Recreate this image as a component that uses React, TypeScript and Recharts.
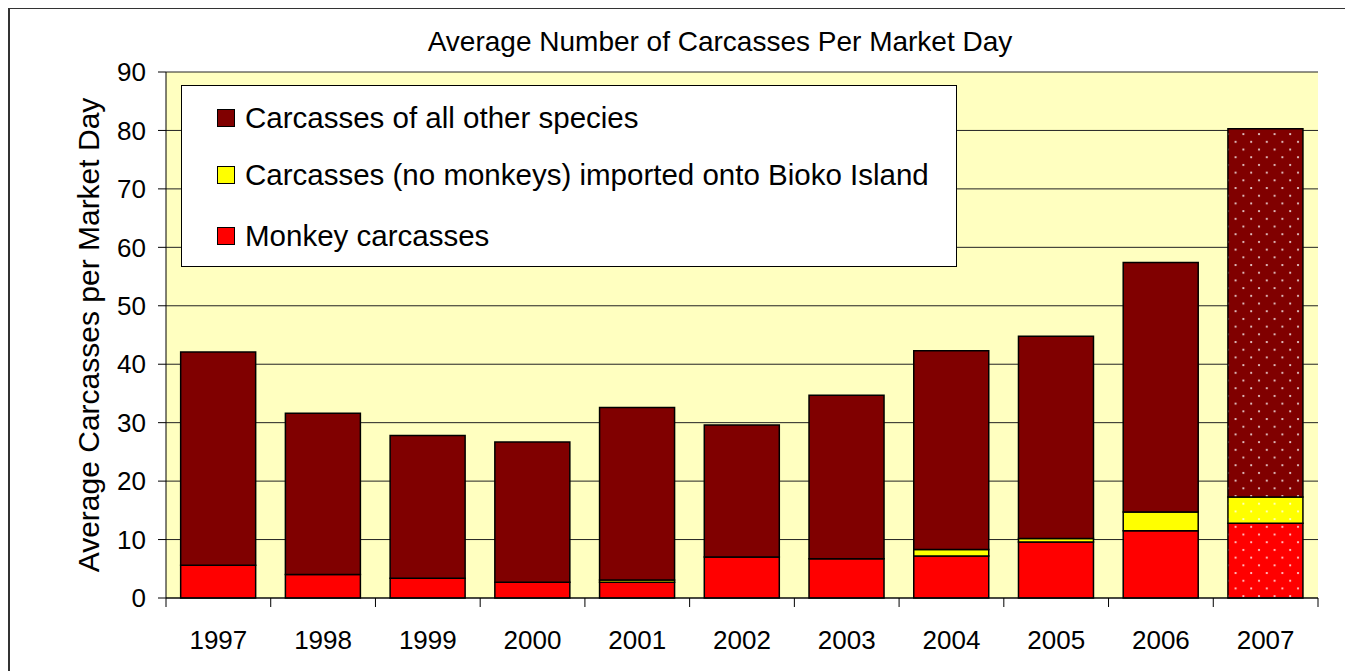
import { BarChart, Bar, XAxis, YAxis, CartesianGrid, Cell, Label } from "recharts"

const years = ["1997", "1998", "1999", "2000", "2001", "2002", "2003", "2004", "2005", "2006", "2007"]
const monkey = [5.6, 4.0, 3.4, 2.7, 2.7, 7.0, 6.7, 7.2, 9.6, 11.5, 12.8]
const imported = [0, 0, 0, 0, 0.4, 0, 0, 1.1, 0.6, 3.2, 4.5]
const other = [36.5, 27.6, 24.4, 24.0, 29.5, 22.6, 28.0, 34.0, 34.6, 42.7, 63.0]
const yTicks = [0, 10, 20, 30, 40, 50, 60, 70, 80, 90]

const legendItems = [
  { label: "Carcasses of all other species", color: "#800000" },
  { label: "Carcasses (no monkeys) imported onto Bioko Island", color: "#FFFF00" },
  { label: "Monkey carcasses", color: "#FF0000" },
]

const data = years.map((year, i) => ({
  year,
  monkey: monkey[i],
  imported: imported[i],
  other: other[i],
}))

const FONT = "'Liberation Sans', Arial, sans-serif"
const PLOT_W = 1152
const BAND = PLOT_W / years.length
const LAST = years.length - 1

function YearTick(props: any) {
  const { x, y, payload } = props
  const idx = props.index ?? payload.index
  const axisY = y - 8
  return (
    <g>
      <line x1={x - BAND / 2} x2={x - BAND / 2} y1={axisY} y2={axisY + 9} stroke="#000" />
      {idx === LAST && <line x1={x + BAND / 2} x2={x + BAND / 2} y1={axisY} y2={axisY + 9} stroke="#000" />}
      <text x={x} y={axisY + 51} textAnchor="middle" fontSize={26} fontFamily={FONT} fill="#000">
        {payload.value}
      </text>
    </g>
  )
}

function dots(id: string, bg: string) {
  return (
    <pattern id={id} patternUnits="userSpaceOnUse" width={15.6} height={15.4}>
      <rect width={15.6} height={15.4} fill={bg} />
      <circle cx={3} cy={3} r={1.1} fill="#fff" fillOpacity={0.85} />
      <circle cx={10.8} cy={10.7} r={1.1} fill="#fff" fillOpacity={0.85} />
    </pattern>
  )
}

export default function App() {
  return (
    <div style={{ position: "relative", width: 1343, height: 680, fontFamily: FONT }}>
      <style>{"html,body{overflow:hidden}"}</style>
      <div
        style={{
          position: "absolute",
          left: 0,
          top: -1,
          width: 1343,
          height: 700,
          border: "2px solid #333",
          boxSizing: "border-box",
        }}
      />
      <div
        style={{
          position: "absolute",
          left: 712,
          top: 19,
          transform: "translateX(-50%)",
          whiteSpace: "nowrap",
          fontSize: 28,
          lineHeight: "30px",
          color: "#000",
        }}
      >
        Average Number of Carcasses Per Market Day
      </div>
      <div style={{ position: "absolute", left: 0, top: 0 }}>
        <BarChart
          width={1342}
          height={664}
          data={data}
          margin={{ top: 64, right: 32, left: 0, bottom: 0 }}
          barCategoryGap="14%"
        >
          <defs>
            {dots("dotOther", "#800000")}
            {dots("dotImported", "#FFFF00")}
            {dots("dotMonkey", "#FF0000")}
          </defs>
          <CartesianGrid vertical={false} stroke="#222" fill="#FFFFC0" />
          <XAxis
            dataKey="year"
            height={74}
            interval={0}
            tickLine={false}
            tickSize={8}
            tickMargin={0}
            axisLine={{ stroke: "#000" }}
            tick={<YearTick />}
          />
          <XAxis xAxisId="top" dataKey="year" orientation="top" height={0} tick={false} tickLine={false} axisLine={{ stroke: "#808080", strokeWidth: 2 }} />
          <YAxis
            width={158}
            domain={[0, 90]}
            ticks={yTicks}
            interval={0}
            tickSize={8}
            tickMargin={12}
            tickLine={{ stroke: "#000" }}
            axisLine={{ stroke: "#000" }}
            tick={{ fontSize: 26, fill: "#000", fontFamily: FONT }}
          >
            <Label
              content={(p: any) => {
                const vb = p.viewBox
                const cx = 80
                const cy = vb.y + vb.height / 2
                return (
                  <text
                    x={cx}
                    y={cy}
                    transform={`rotate(-90 ${cx} ${cy})`}
                    textAnchor="middle"
                    dominantBaseline="central"
                    fontSize={30}
                    fontFamily={FONT}
                    fill="#000"
                  >
                    Average Carcasses per Market Day
                  </text>
                )
              }}
            />
          </YAxis>
          <YAxis yAxisId="right" orientation="right" width={0} tick={false} tickLine={false} axisLine={{ stroke: "#808080", strokeWidth: 2 }} />
          <Bar dataKey="monkey" stackId="a" stroke="#000" strokeWidth={1.5} isAnimationActive={false}>
            {data.map((d, i) => (
              <Cell key={d.year} fill={i === LAST ? "url(#dotMonkey)" : "#FF0000"} />
            ))}
          </Bar>
          <Bar dataKey="imported" stackId="a" stroke="#000" strokeWidth={1.5} isAnimationActive={false}>
            {data.map((d, i) => (
              <Cell key={d.year} fill={i === LAST ? "url(#dotImported)" : "#FFFF00"} />
            ))}
          </Bar>
          <Bar dataKey="other" stackId="a" stroke="#000" strokeWidth={1.5} isAnimationActive={false}>
            {data.map((d, i) => (
              <Cell key={d.year} fill={i === LAST ? "url(#dotOther)" : "#800000"} />
            ))}
          </Bar>
        </BarChart>
      </div>
      <div
        style={{
          position: "absolute",
          left: 173,
          top: 77,
          width: 776,
          height: 182,
          background: "#fff",
          border: "1px solid #000",
          boxSizing: "border-box",
        }}
      >
        {legendItems.map((item, i) => (
          <div
            key={item.label}
            style={{
              position: "absolute",
              left: 35,
              top: [32, 89, 150][i] - 17,
              height: 34,
              display: "flex",
              alignItems: "center",
              whiteSpace: "nowrap",
            }}
          >
            <span
              style={{
                width: 18,
                height: 18,
                background: item.color,
                border: "1px solid #000",
                boxSizing: "border-box",
                marginRight: 10,
                flexShrink: 0,
              }}
            />
            <span style={{ fontSize: 29.5, lineHeight: "34px", color: "#000" }}>{item.label}</span>
          </div>
        ))}
      </div>
    </div>
  )
}
